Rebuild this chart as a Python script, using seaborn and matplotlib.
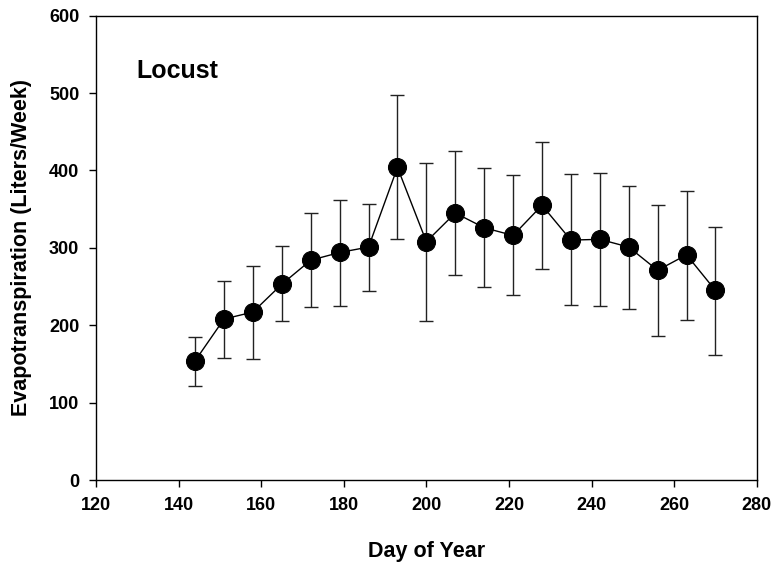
import matplotlib
matplotlib.use("Agg")
import matplotlib.pyplot as plt
import seaborn as sns
import numpy as np
import pandas as pd

day = [144, 151, 158, 165, 172, 179, 186, 193, 200, 207, 214, 221, 228, 235, 242, 249, 256, 263, 270]
et_mean = [154, 208, 217, 253, 284, 294, 301, 404, 308, 345, 326, 316, 355, 310, 311, 301, 271, 291, 245]
et_upper = [185, 257, 276, 302, 345, 362, 357, 497, 410, 425, 403, 394, 437, 395, 397, 380, 356, 373, 327]
et_lower = [121, 158, 156, 205, 223, 225, 244, 311, 206, 265, 249, 239, 273, 226, 225, 221, 186, 207, 161]
x_ticks = [120, 140, 160, 180, 200, 220, 240, 260, 280]
y_ticks = [0, 100, 200, 300, 400, 500, 600]

sns.set_style("ticks")
plt.rcParams['font.family'] = ['Liberation Sans', 'DejaVu Sans']
plt.rcParams['font.weight'] = 'bold'
plt.rcParams['text.color'] = 'black'
plt.rcParams['axes.labelcolor'] = 'black'
plt.rcParams['xtick.color'] = 'black'
plt.rcParams['ytick.color'] = 'black'

df = pd.DataFrame({"day": day, "et": et_mean})

fig = plt.figure(figsize=(7.74, 5.62), dpi=100)
ax = fig.add_axes([0.124, 0.1459, 0.8537, 0.8262])

mean = np.array(et_mean)
yerr = [mean - np.array(et_lower), np.array(et_upper) - mean]
ax.errorbar(day, et_mean, yerr=yerr, fmt='none', ecolor='#222222',
            elinewidth=1.0, capsize=5, capthick=1.0, zorder=2)
sns.lineplot(data=df, x="day", y="et", ax=ax, color='black', linewidth=1.0,
             marker='o', markersize=13, markerfacecolor='black',
             markeredgecolor='black', zorder=3)

ax.set_xlim(120, 280)
ax.set_ylim(0, 600)
ax.set_xticks(x_ticks)
ax.set_yticks(y_ticks)
ax.tick_params(axis='both', direction='out', length=5, width=1.0,
               labelsize=13, pad=7, color='black', labelcolor='black')
for lab in ax.get_xticklabels() + ax.get_yticklabels():
    lab.set_fontweight('bold')
for s in ax.spines.values():
    s.set_visible(True)
    s.set_linewidth(1.0)
    s.set_color('black')

ax.set_xlabel("Day of Year", fontsize=15.5, fontweight='bold', labelpad=20, color='black')
ax.set_ylabel("Evapotranspiration (Liters/Week)", fontsize=15.5, fontweight='bold', labelpad=12, color='black')
ax.text(129.7, 519, "Locust", fontsize=18, fontweight='bold', va='baseline', ha='left', color='black')

fig.savefig("out.png", dpi=100)
